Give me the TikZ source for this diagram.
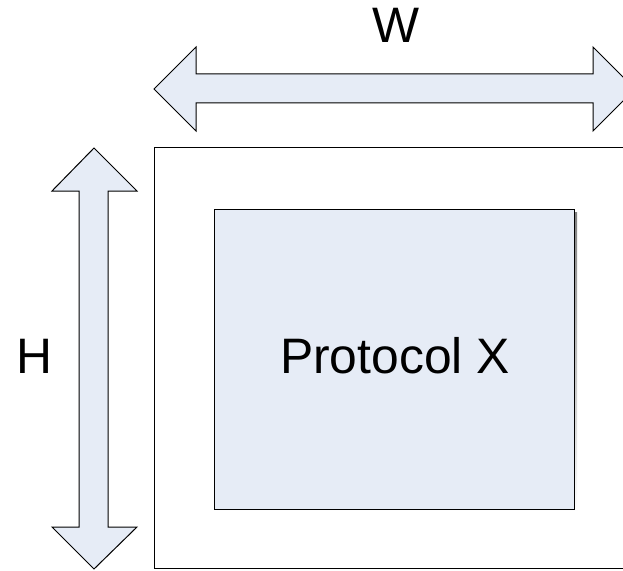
\documentclass[tikz,border=0pt]{standalone}
\usepackage{fontspec}
\setmainfont{Liberation Sans}
\definecolor{boxfill}{RGB}{230,236,246}
\definecolor{shade}{RGB}{128,128,128}

\begin{document}
\begin{tikzpicture}[x=1bp,y=-1bp,line width=1bp]
\tikzstyle{every node}+=[inner sep=0pt,font=\fontsize{50}{60}\selectfont]
\useasboundingbox (0,0) rectangle (623,571);
\clip (0,0) rectangle (623,571);
% width arrow
\draw [black,fill=boxfill] (154,89) -- (196,47) -- (196,74) -- (593,74) -- (593,47) -- (635,89) -- (593,131) -- (593,103) -- (196,103) -- (196,131) -- cycle;
\node (w) at (396,25) {W};
% height arrow
\draw [black,fill=boxfill] (94,148) -- (137,191) -- (108,191) -- (108,527) -- (137,527) -- (94,569) -- (52,527) -- (79,527) -- (79,191) -- (52,191) -- cycle;
\node (h) at (34,356) {H};
% outer frame
\fill [shade] (156,150) rectangle (645,571);
\draw [black,fill=white] (154,148) rectangle (643,568);
% protocol box
\fill [shade] (217,212) rectangle (577,512);
\draw [black,fill=boxfill] (214,209) rectangle (574,509);
\node (proto) at (395,356) {Protocol X};
\end{tikzpicture}
\end{document}
